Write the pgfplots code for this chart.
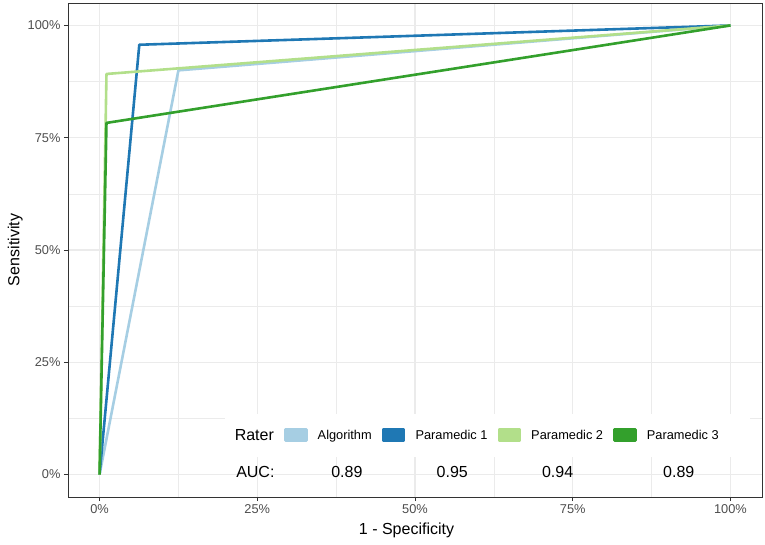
\documentclass[border=0pt]{standalone}
\usepackage{fontspec}
\setmainfont{Liberation Sans}
\usepackage{pgfplots}
\pgfplotsset{compat=1.18}
\definecolor{c1}{HTML}{A6CEE3}
\definecolor{c2}{HTML}{1F78B4}
\definecolor{c3}{HTML}{B2DF8A}
\definecolor{c4}{HTML}{33A02C}
\definecolor{gridc}{HTML}{EBEBEB}
\definecolor{framec}{HTML}{333333}
\definecolor{ticklab}{HTML}{4D4D4D}
\begin{document}
\begin{tikzpicture}
\useasboundingbox (-68pt,-47pt) rectangle (697pt,497pt);
\begin{axis}[
  at={(0pt,0pt)}, anchor=south west,
  scale only axis, width=694pt, height=494pt,
  xmin=-5, xmax=105, ymin=-5, ymax=105,
  xtick={0,25,50,75,100}, ytick={0,25,50,75,100},
  minor xtick={12.5,37.5,62.5,87.5}, minor ytick={12.5,37.5,62.5,87.5},
  xticklabels={0\%,25\%,50\%,75\%,100\%},
  yticklabels={0\%,25\%,50\%,75\%,100\%},
  grid=both,
  major grid style={draw=gridc, line width=1.07pt},
  minor grid style={draw=gridc, line width=0.53pt},
  axis line style={draw=framec, line width=0.9pt},
  tick align=outside, major tick length=4pt, minor tick length=0pt,
  tick pos=left,
  major tick style={draw=framec, line width=0.9pt},
  ticklabel style={font=\fontsize{12.8}{14}\selectfont, text=ticklab},
  xlabel={1 - Specificity}, ylabel={Sensitivity},
  label style={font=\fontsize{16}{18}\selectfont},
  xlabel style={at={(axis description cs:0.4878,-0.0749)}, anchor=base},
  ylabel style={at={(axis description cs:-0.0702,0.5)}, anchor=base},
  legend image code/.code={\fill[#1] (0pt,-5pt) rectangle (21pt,6pt);},
  legend style={at={(axis description cs:0.2255,0.1245)}, anchor=west,
    fill=white, draw=none, inner xsep=0pt, inner ysep=13pt,
    column sep=10.1pt, nodes={inner xsep=0pt},
    font=\fontsize{12.8}{14}\selectfont},
  legend columns=5,
]
\addlegendimage{empty legend}
\addlegendentry{\fontsize{16}{18}\selectfont Rater}
\addplot[c1, line width=2.6pt, line join=round] coordinates {(0,0) (12.5,90) (100,100)};
\addlegendentry{Algorithm}
\addplot[c2, line width=2.6pt, line join=round] coordinates {(0,0) (6.3,95.7) (100,100)};
\addlegendentry{Paramedic 1}
\addplot[c3, line width=2.6pt, line join=round] coordinates {(0,0) (1.1,89.2) (100,100)};
\addlegendentry{Paramedic 2}
\addplot[c4, line width=2.6pt, line join=round] coordinates {(0,0) (1.1,78.3) (100,100)};
\addlegendentry{Paramedic 3\rule{31pt}{0pt}}
\node[font=\fontsize{16}{18}\selectfont, anchor=base] at (axis cs:24.7,-0.73) {AUC:};
\node[font=\fontsize{16}{18}\selectfont, anchor=base] at (axis cs:39.2,-0.73) {0.89};
\node[font=\fontsize{16}{18}\selectfont, anchor=base] at (axis cs:55.9,-0.73) {0.95};
\node[font=\fontsize{16}{18}\selectfont, anchor=base] at (axis cs:72.6,-0.73) {0.94};
\node[font=\fontsize{16}{18}\selectfont, anchor=base] at (axis cs:91.8,-0.73) {0.89};
\end{axis}
\end{tikzpicture}
\end{document}
